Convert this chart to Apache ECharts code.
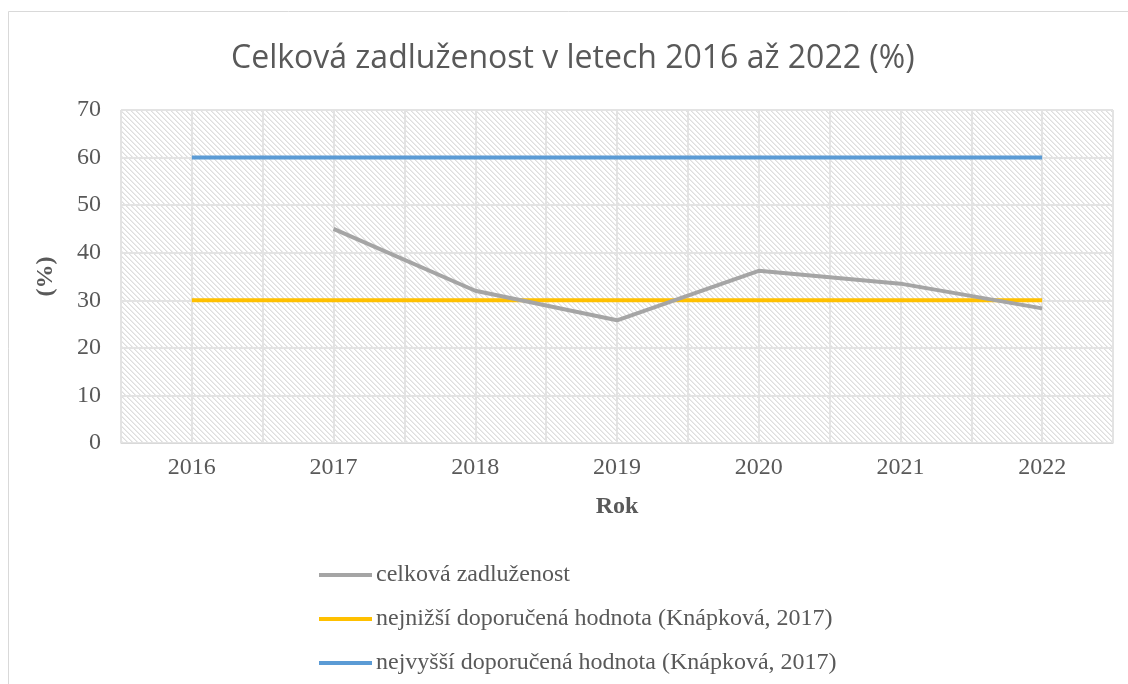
<!DOCTYPE html>
<html><head><meta charset="utf-8">
<script src="https://cdn.jsdelivr.net/npm/echarts@6/dist/echarts.min.js"></script>
<style>html,body{margin:0;padding:0;background:#fff}#c{width:1128px;height:684px}</style>
</head><body><div id="c"></div>
<script>
const years = ['2016','2017','2018','2019','2020','2021','2022'];
const totalDebt = [null, 45.0, 32.0, 25.8, 36.2, 33.5, 28.3];
const lowestRecommended = [30, 30, 30, 30, 30, 30, 30];
const highestRecommended = [60, 60, 60, 60, 60, 60, 60];
const seriesNames = ['celková zadluženost','nejnižší doporučená hodnota (Knápková, 2017)','nejvyšší doporučená hodnota (Knápková, 2017)'];

const pc = document.createElement('canvas');
pc.width = 5; pc.height = 5;
const g = pc.getContext('2d');
g.fillStyle = '#ffffff'; g.fillRect(0,0,5,5);
g.fillStyle = '#dedede';
for (let i = 0; i < 5; i++) { g.fillRect(i, i, 1, 1); }
g.fillStyle = '#ececec';
for (let i = 0; i < 5; i++) { g.fillRect((i+1)%5, i, 1, 1); }

const serif = '"Liberation Serif","Times New Roman",serif';
const chart = echarts.init(document.getElementById('c'));
chart.setOption({
  animation: false,
  backgroundColor: '#fff',
  title: { text: 'Celková zadluženost v letech 2016 až 2022 (%)', left: 226, top: 38,
    textStyle: { fontFamily: '"Open Sans","Liberation Sans",sans-serif', fontSize: 32, fontWeight: 'normal', color: '#595959' } },
  graphic: [{ type: 'rect', shape: { x: 8.5, y: 11.5, width: 1300, height: 800 }, style: { fill: null, stroke: '#d9d9d9', lineWidth: 1 }, silent: true }],
  grid: { left: 121, right: 15, top: 110, bottom: 241, show: true, backgroundColor: { image: pc, repeat: 'repeat' }, borderWidth: 0 },
  legend: { orient: 'vertical', left: 314, top: 558, itemGap: 20, itemWidth: 53, itemHeight: 4,
    icon: 'rect', textStyle: { fontFamily: serif, fontSize: 24, color: '#595959', padding: [0,0,0,-1] },
    data: seriesNames },
  xAxis: [
    { type: 'category', data: years, boundaryGap: true, axisLine: { lineStyle: { color: '#d9d9d9', width: 1 } },
      axisTick: { show: false }, splitLine: { show: false },
      axisLabel: { fontFamily: serif, fontSize: 24, color: '#595959', margin: 13 },
      name: 'Rok', nameLocation: 'middle', nameGap: 52,
      nameTextStyle: { fontFamily: serif, fontSize: 24, fontWeight: 'bold', color: '#595959' } },
    { type: 'value', min: 0, max: 7, interval: 0.5, show: true, position: 'bottom',
      axisLine: { show: false }, axisTick: { show: false }, axisLabel: { show: false },
      splitLine: { show: true, lineStyle: { color: '#e3e3e3', width: 2 } } }
  ],
  yAxis: { type: 'value', min: 0, max: 70, interval: 10,
    axisLine: { show: false }, axisTick: { show: false },
    splitLine: { lineStyle: { color: '#e3e3e3', width: 2 } },
    axisLabel: { fontFamily: serif, fontSize: 24, color: '#595959', margin: 20 },
    name: '(%)', nameLocation: 'middle', nameGap: 63, nameRotate: 90,
    nameTextStyle: { fontFamily: serif, fontSize: 24, fontWeight: 'bold', color: '#595959' } },
  series: [
    { name: seriesNames[0], type: 'line', data: totalDebt, symbol: 'none', connectNulls: false,
      lineStyle: { color: '#a5a5a5', width: 4 }, itemStyle: { color: '#a5a5a5' }, z: 4 },
    { name: seriesNames[1], type: 'line', data: lowestRecommended, symbol: 'none',
      lineStyle: { color: '#ffc000', width: 4 }, itemStyle: { color: '#ffc000' }, z: 3 },
    { name: seriesNames[2], type: 'line', data: highestRecommended, symbol: 'none',
      lineStyle: { color: '#5b9bd5', width: 4 }, itemStyle: { color: '#5b9bd5' }, z: 3 }
  ]
});
</script></body></html>
